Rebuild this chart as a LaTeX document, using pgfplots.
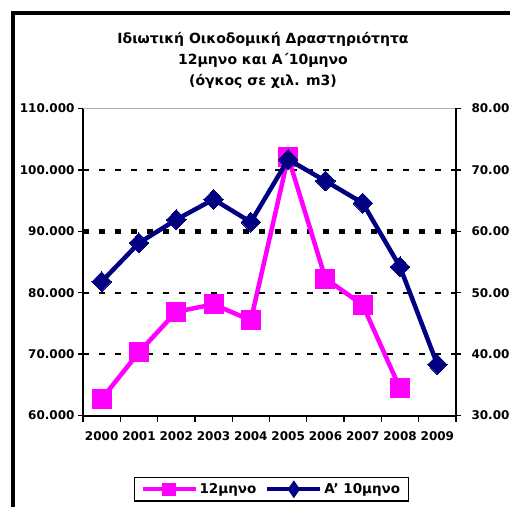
\documentclass[border=0pt]{standalone}
\usepackage{pgfplots}
\pgfplotsset{compat=1.18}
\usepackage{fontspec}
\setmainfont{DejaVu Sans}
\definecolor{pinkc}{RGB}{255,0,255}
\definecolor{navyc}{RGB}{0,0,128}
\newcommand{\tickfont}{\fontsize{12}{14}\selectfont\bfseries}
\begin{document}
\begin{tikzpicture}
\useasboundingbox (0pt,0pt) rectangle (510pt,506pt);
\clip (0pt,0pt) rectangle (510pt,506pt);
\draw[line width=4pt] (13pt,-20pt) rectangle (530pt,493pt);
\node[anchor=base, font=\fontsize{14}{17}\selectfont\bfseries] at (263pt,462pt) {Ιδιωτική Οικοδομική Δραστηριότητα};
\node[anchor=base, font=\fontsize{14}{17}\selectfont\bfseries] at (263pt,441pt) {12μηνο και Α΄10μηνο};
\node[anchor=base, font=\fontsize{14}{17}\selectfont\bfseries] at (263pt,420.5pt) {(όγκος σε χιλ. m3)};
\begin{axis}[
  at={(83pt,90.5pt)}, anchor=south west, scale only axis,
  width=373pt, height=307pt,
  xmin=-0.5, xmax=9.5, ymin=60, ymax=110,
  axis x line*=bottom, axis y line*=left,
  axis line style={line width=2pt},
  clip=false,
  tick align=outside,
  major tick length=5pt, minor tick length=6pt,
  every tick/.style={black, line width=1.3pt},
  xtick={0,...,9},
  xticklabels={2000,2001,2002,2003,2004,2005,2006,2007,2008,2009},
  major x tick style={draw=none},
  minor xtick={-0.5,0.5,...,9.5},
  xticklabel style={font=\tickfont, yshift=-8pt},
  ytick={60,70,80,100,110},
  yticklabels={60.000,70.000,80.000,100.000,110.000},
  extra y ticks={90},
  extra y tick labels={90.000},
  extra y tick style={grid style={black, line width=4.5pt, dash pattern=on 6pt off 10pt}},
  yticklabel style={font=\tickfont},
  ymajorgrids,
  grid style={black, line width=1.8pt, dash pattern=on 6pt off 10pt},
]
\draw[gray!60, line width=0.8pt] (rel axis cs:0,1) -- (rel axis cs:1,1);
\addplot[pinkc, line width=4.5pt, mark=square*, mark size=9.5pt, mark options={solid, line width=0pt}]
  coordinates {(0,62.7)(1,70.3)(2,76.9)(3,78.1)(4,75.5)(5,102.1)(6,82.3)(7,78.0)(8,64.4)};
\end{axis}
\begin{axis}[
  at={(83pt,90.5pt)}, anchor=south west, scale only axis,
  width=373pt, height=307pt,
  xmin=-0.5, xmax=9.5, ymin=30, ymax=80,
  axis x line=none, axis y line*=right,
  axis line style={line width=2pt},
  clip=false,
  tick align=outside,
  major tick length=5pt,
  every tick/.style={black, line width=1.3pt},
  ytick={30,40,50,60,70,80},
  yticklabels={30.000,40.000,50.000,60.000,70.000,80.000},
  yticklabel style={font=\tickfont, xshift=7pt},
  legend style={at={(axis description cs:0.505,-0.2)}, anchor=north,
    draw=black, line width=1.2pt, font=\fontsize{13.5}{15}\selectfont\bfseries,
    legend columns=2, inner xsep=6pt, inner ysep=4pt,
    /tikz/every even column/.append style={column sep=7pt}},
  legend cell align=left,
]
\addlegendimage{legend image code/.code={
  \draw[pinkc, line width=4pt] (0pt,0pt) -- (53pt,0pt);
  \fill[pinkc] (20.5pt,-6pt) rectangle (32.5pt,6pt);}}
\addlegendentry{12μηνο}
\addplot[navyc, line width=4.5pt, mark=diamond*, mark size=10pt, mark options={solid, line width=0pt, xscale=1.3},
  legend image code/.code={
  \draw[navyc, line width=4pt] (0pt,0pt) -- (53pt,0pt);
  \fill[navyc] (26.5pt,5pt) -- (30pt,0pt) -- (26.5pt,-5pt) -- (23pt,0pt) -- cycle;}]
  coordinates {(0,51.8)(1,58.1)(2,61.9)(3,65.2)(4,61.5)(5,71.7)(6,68.2)(7,64.6)(8,54.2)(9,38.3)};
\addlegendentry{A' 10μηνο}
\end{axis}
\end{tikzpicture}
\end{document}
